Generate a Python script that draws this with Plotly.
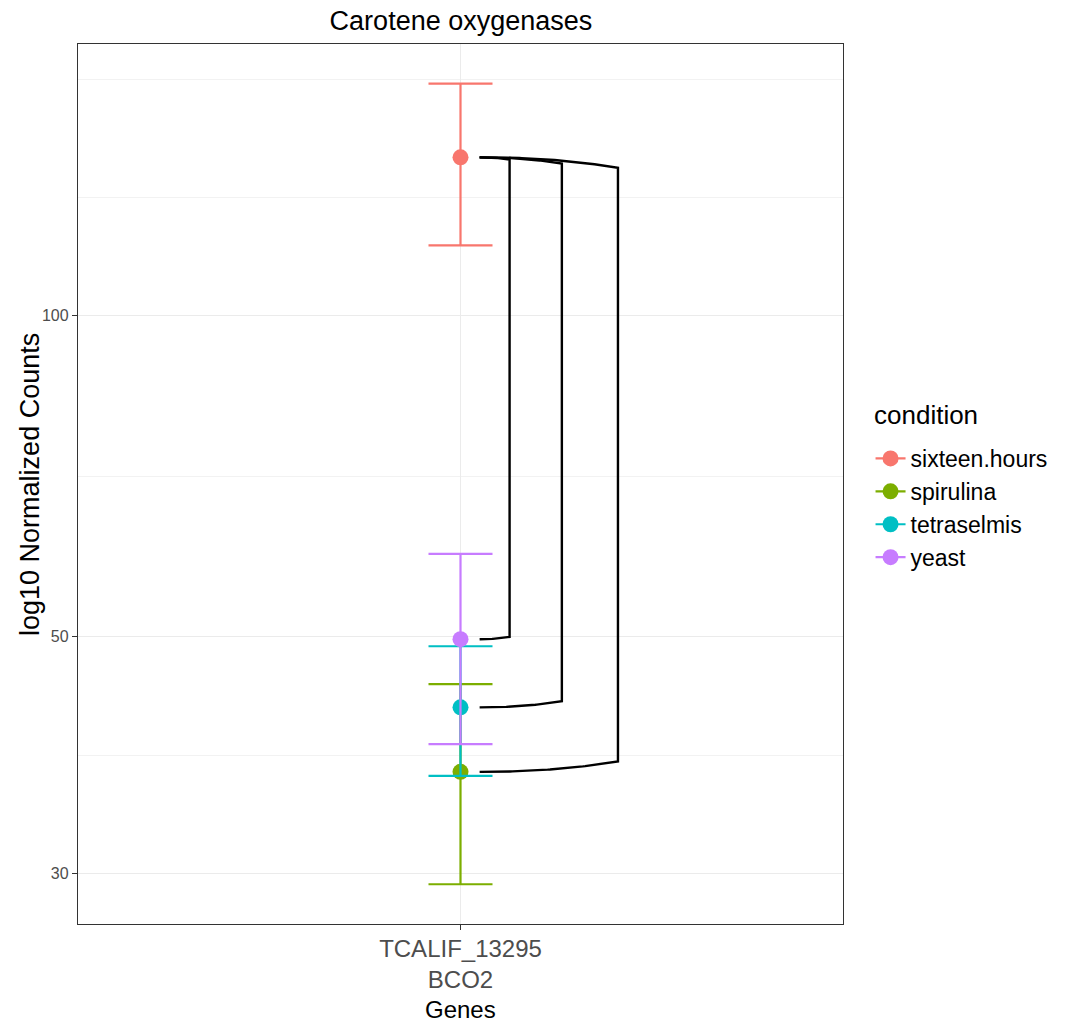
import numpy as np
import plotly.graph_objects as go

# ---- data ----
gene_label = "TCALIF_13295<br>BCO2"
conditions = ["sixteen.hours", "spirulina", "tetraselmis", "yeast"]
means = [140.8, 37.35, 42.93, 49.74]
upper = [165.1, 45.14, 48.99, 59.8]
lower = [116.4, 29.30, 37.03, 39.66]
colors = ["#F8766D", "#7CAE00", "#00BFC4", "#C77CFF"]

y_major = [30, 50, 100]
y_minor = [38.73, 70.71, 129.1, 166.7]

# significance brackets: (from condition, to condition, bracket x position)
brackets = [("yeast", "sixteen.hours", 1.077),
            ("tetraselmis", "sixteen.hours", 1.159),
            ("spirulina", "sixteen.hours", 1.247)]
bracket_start = 1.030
bend = 0.045  # log-decades per x unit

fig = go.Figure()

for c, m, u, l, col in zip(conditions, means, upper, lower, colors):
    fig.add_trace(go.Scatter(
        x=[1], y=[m], name=c, mode="markers+lines",
        marker=dict(color=col, size=16),
        line=dict(color=col, width=2.2),
        error_y=dict(type="data", symmetric=False, array=[u - m], arrayminus=[m - l],
                     color=col, thickness=2.2, width=32),
        hoverinfo="skip",
    ))

idx = {c: i for i, c in enumerate(conditions)}
t = np.linspace(0, 1, 60)
for lo_c, hi_c, xv in brackets:
    y_hi = np.log10(means[idx[hi_c]])
    y_lo = np.log10(means[idx[lo_c]])
    w = xv - bracket_start
    d = bend * w
    xs_top = bracket_start + w * t
    ys_top = y_hi - d * t ** 2.2
    xs_bot = xv - w * t
    ys_bot = y_lo + d * (1 - t) ** 2.2
    xs = np.concatenate([xs_top, xs_bot])
    ys = np.concatenate([ys_top, ys_bot])
    fig.add_trace(go.Scatter(x=xs, y=10 ** ys, mode="lines",
                             line=dict(color="black", width=2.4),
                             showlegend=False, hoverinfo="skip"))

fig.update_layout(
    width=1076, height=1024,
    margin=dict(l=78, r=233, t=44, b=100),
    paper_bgcolor="white", plot_bgcolor="white",
    font=dict(family="Liberation Sans, Arial, sans-serif", color="black"),
    title=dict(text="Carotene oxygenases", x=0.4284, xanchor="center",
               y=1 - 21 / 1024, yanchor="middle", font=dict(size=27, color="black")),
    showlegend=True,
    legend=dict(font=dict(size=23), x=1.036, xanchor="left", y=0.5534, yanchor="top",
                bgcolor="rgba(0,0,0,0)", tracegroupgap=0),
    xaxis=dict(range=[0.4, 1.6], tickmode="array", tickvals=[1], ticktext=[gene_label],
               tickfont=dict(size=24, color="#4D4D4D"), ticks="outside", ticklen=5,
               ticklabelstandoff=-2,
               tickcolor="#333333", showgrid=True, gridcolor="#EBEBEB", gridwidth=1.2,
               showline=True, mirror=True, linecolor="#333333", linewidth=1.3,
               zeroline=False),
    yaxis=dict(type="log", range=[1.4296, 2.2549], tickmode="array",
               tickvals=y_major, ticktext=[str(v) for v in y_major],
               tickfont=dict(size=16, color="#4D4D4D"), ticks="outside", ticklen=5,
               tickcolor="#333333", showgrid=True, gridcolor="#EBEBEB", gridwidth=1.2,
               minor=dict(tickmode="array", tickvals=y_minor, showgrid=True,
                          gridcolor="#F2F2F2", gridwidth=1, ticks=""),
               showline=True, mirror=True, linecolor="#333333", linewidth=1.3,
               zeroline=False),
    annotations=[
        dict(text="log10 Normalized Counts", xref="paper", yref="paper",
             x=-0.0628, y=0.5, xanchor="center", yanchor="middle", textangle=-90,
             showarrow=False, font=dict(size=27, color="black")),
        dict(text="Genes", xref="paper", yref="paper", x=0.5, y=-100 / 880,
             xanchor="center", yanchor="bottom", showarrow=False, borderpad=0,
             font=dict(size=24, color="black")),
        dict(text="condition", xref="paper", yref="paper", x=1.038, y=0.5784,
             xanchor="left", yanchor="middle", showarrow=False,
             font=dict(size=26, color="black")),
    ],
)

fig.write_html("out.html")
